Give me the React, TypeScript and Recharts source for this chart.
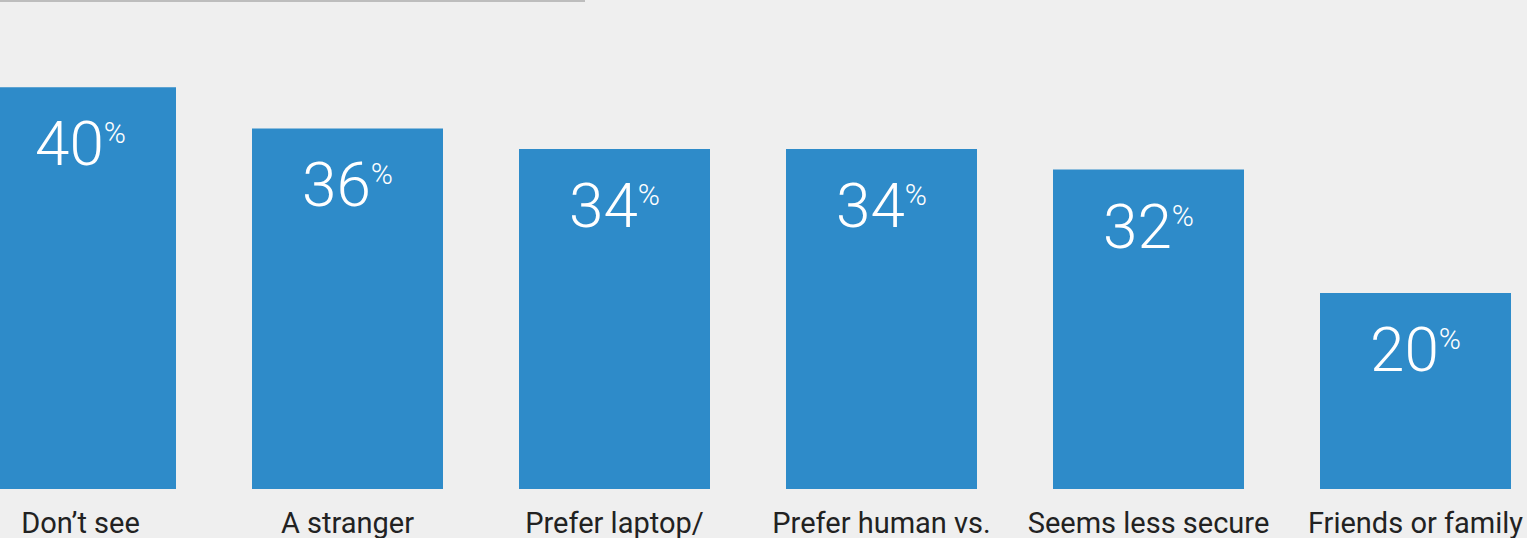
import React from "react";
import { BarChart, Bar, XAxis, YAxis, LabelList } from "recharts";

const categories = [
  "Don\u2019t see",
  "A stranger",
  "Prefer laptop/",
  "Prefer human vs.",
  "Seems less secure",
  "Friends or family",
];
const values = [40, 36, 34, 34, 32, 20];

const data = categories.map((name, i) => ({ name, value: values[i] }));

const BAR_COLOR = "#2e8bc9";
const BG = "#efefef";

const ValueLabel = (props: any) => {
  const { x, y, width, value } = props;
  const cx = x + width / 2;
  const base = y + 78;
  return (
    <text
      x={cx}
      y={base}
      textAnchor="middle"
      fill="#ffffff"
      style={{ fontFamily: "Roboto, 'Liberation Sans', sans-serif", fontWeight: 300 }}
    >
      <tspan fontSize={62}>{value}</tspan>
      <tspan fontSize={30} dy={-22}>%</tspan>
    </text>
  );
};

const CategoryTick = (props: any) => {
  const { x, y, payload } = props;
  return (
    <text
      x={x}
      y={y}
      dy={44}
      textAnchor="middle"
      fill="#222222"
      style={{ fontFamily: "Roboto, 'Liberation Sans', sans-serif", fontWeight: 400, fontSize: 29 }}
    >
      {payload.value}
    </text>
  );
};

export default function App() {
  return (
    <div
      style={{
        position: "fixed",
        left: 0,
        top: 0,
        width: 1527,
        height: 538,
        overflow: "hidden",
        background: BG,
      }}
    >
      <div
        style={{
          position: "absolute",
          left: 0,
          top: 0,
          width: 585,
          height: 2,
          background: "#bdbdbd",
        }}
      />
      <div style={{ position: "absolute", left: -53, top: 0 }}>
        <BarChart
          width={1602}
          height={538}
          data={data}
          margin={{ top: 0, right: 0, bottom: 0, left: 0 }}
        >
          <XAxis
            dataKey="name"
            axisLine={false}
            tickLine={false}
            tickSize={0}
            tickMargin={0}
            height={49}
            interval={0}
            tick={<CategoryTick />}
          />
          <YAxis hide type="number" domain={[0.925, 48.5]} allowDataOverflow />
          <Bar dataKey="value" fill={BAR_COLOR} barSize={191} isAnimationActive={false}>
            <LabelList dataKey="value" content={<ValueLabel />} />
          </Bar>
        </BarChart>
      </div>
    </div>
  );
}
